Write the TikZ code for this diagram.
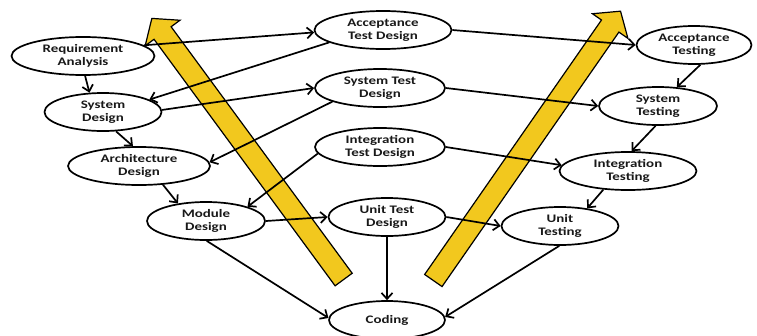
\documentclass[tikz,border=0pt]{standalone}
\usepackage{fontspec}
\setmainfont{Carlito}[FakeStretch=1.3]
\usetikzlibrary{shapes.geometric,shapes.arrows,arrows.meta}
\definecolor{vyellow}{RGB}{242,200,30}

\begin{document}
\begin{tikzpicture}[x=1pt,y=-1pt]
    \tikzstyle{phase} = [ellipse, draw, line width=1.7pt, fill=white, minimum height=38pt, inner sep=0pt, align=center, font=\fontsize{11.5}{13}\selectfont\bfseries, text=black!90]
    \tikzstyle{flow} = [single arrow, draw, line width=1.2pt, fill=vyellow, inner sep=10pt, single arrow head extend=11pt, single arrow tip angle=100, anchor=tail]
    \tikzstyle{link} = [line width=1.7pt, -{Straight Barb[length=6pt,width=11pt]}]

    \useasboundingbox (0,0) rectangle (757,335);

      \draw
        (83,56) node[phase, minimum width=143pt] (ra){Requirement\\Analysis}
        (103,112) node[phase, minimum width=117pt] (sd){System\\Design}
        (139,166) node[phase, minimum width=142pt] (ad){Architecture\\Design}
        (206,221) node[phase, minimum width=118pt] (md){Module\\Design}
        (387,320) node[phase, minimum width=116pt] (cod){Coding}
        (383,30) node[phase, minimum width=137pt] (atd){Acceptance\\Test Design}
        (380,88) node[phase, minimum width=130pt] (std){System Test\\Design}
        (380,147) node[phase, minimum width=130pt] (itd){Integration\\Test Design}
        (387,217) node[phase, minimum width=117pt] (utd){Unit Test\\Design}
        (694,45) node[phase, minimum width=115pt] (att){Acceptance\\Testing}
        (658,106) node[phase, minimum width=118pt] (stt){System\\Testing}
        (628,171) node[phase, minimum width=137pt] (itt){Integration\\Testing}
        (560,226) node[phase, minimum width=117pt] (utt){Unit\\Testing};

      % the two big arrows
      \node[flow, rotate=126.3, minimum height=324pt] (up1) at (344,280) {};
      \node[flow, rotate=55.2, minimum height=328pt] (up2) at (433,281) {};

      \begin{scope}[link]
        \draw (ra.10) to (atd.182);
        \draw (ra.-84) to (sd.125);
        \draw (atd.193) to (sd.15);
        \draw (sd.2) to (std.180);
        \draw (sd.-56) to (ad.107);
        \draw (std.196) to (ad.3);
        \draw (ad.-38) to (md.148);
        \draw (itd.186) to (md.19);
        \draw (md.east) to (utd.west);
        \draw (md.-88) to (cod.178);
        \draw (utd.south) to (cod.north);
        \draw (utt.-92) to (cod.3);
        \draw (atd.east) to (att.west);
        \draw (std.east) to (stt.west);
        \draw (itd.east) to (itt.175);
        \draw (utd.east) to (utt.west);
        \draw (att.-72) to (stt.45);
        \draw (stt.-97) to (itt.80);
        \draw (itt.217) to (utt.33);
      \end{scope}
    \end{tikzpicture}
\end{document}
